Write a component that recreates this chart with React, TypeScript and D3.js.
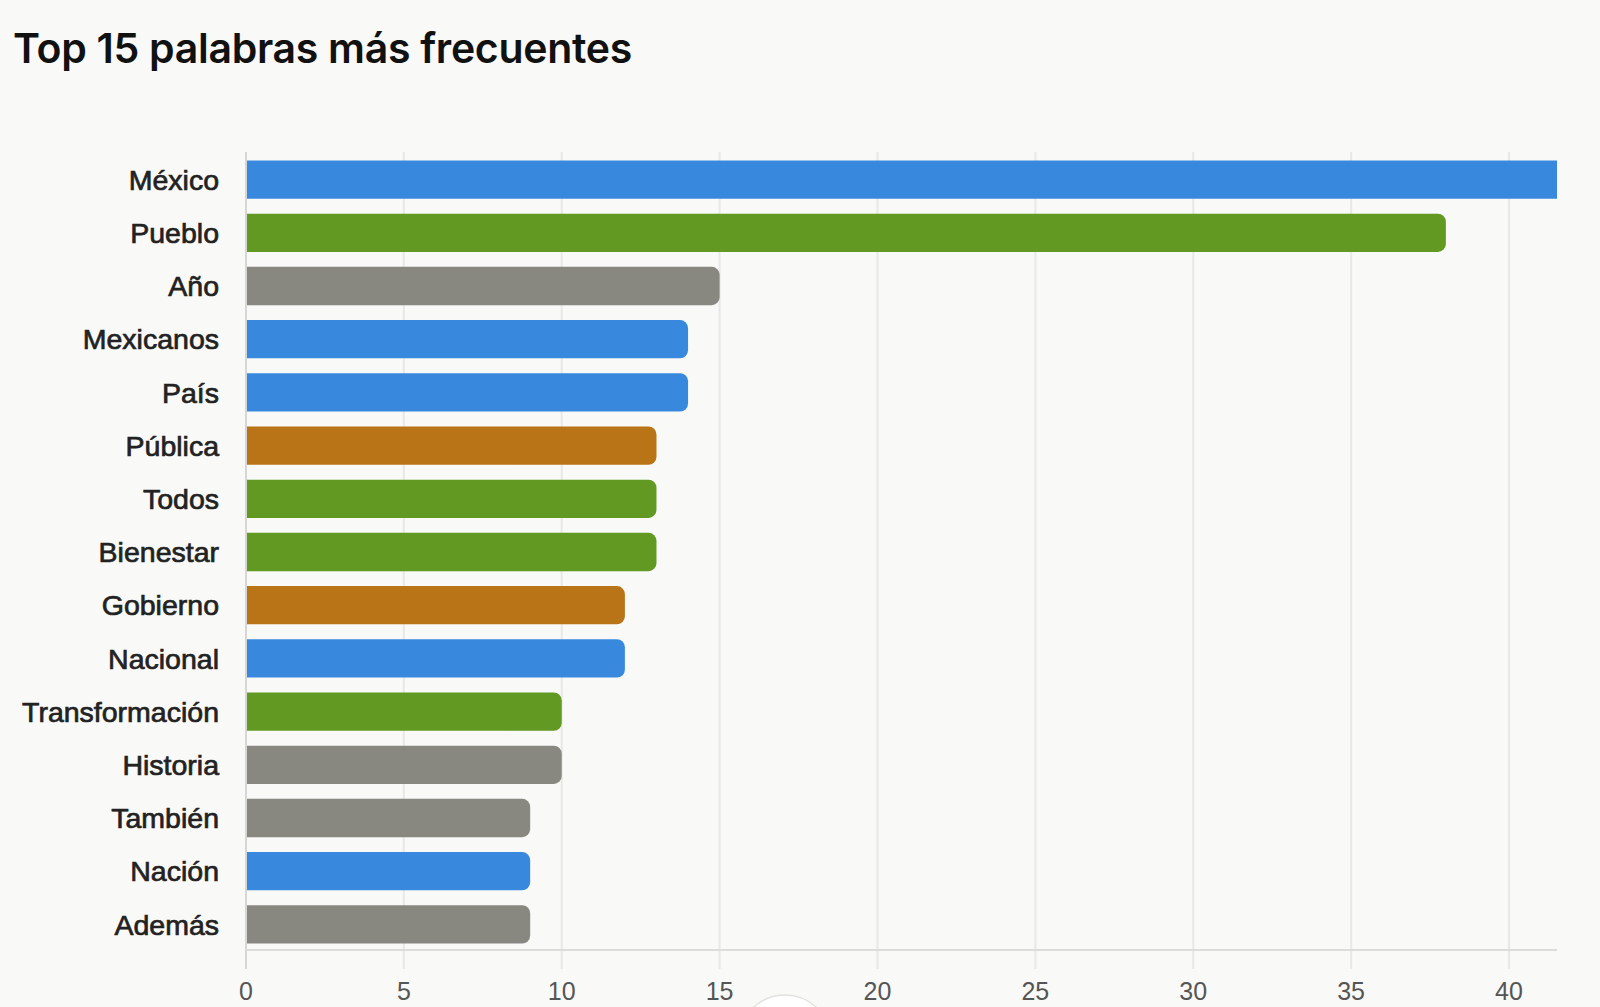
import * as React from 'react'
import {useEffect, useRef} from 'react'
import * as d3 from 'd3'

const palabras = ['México', 'Pueblo', 'Año', 'Mexicanos', 'País', 'Pública', 'Todos', 'Bienestar',
  'Gobierno', 'Nacional', 'Transformación', 'Historia', 'También', 'Nación', 'Además']
const frecuencias = [45, 38, 15, 14, 14, 13, 13, 13, 12, 12, 10, 10, 9, 9, 9]
const grupos = ['patria', 'social', 'general', 'patria', 'patria', 'estado', 'social', 'social',
  'estado', 'patria', 'social', 'general', 'general', 'patria', 'general']
const tiposGrupo = ['patria', 'social', 'general', 'estado']
const coloresGrupo = ['#3889de', '#629923', '#898880', '#ba7418']
const ticksX = [0, 5, 10, 15, 20, 25, 30, 35, 40]

const width = 1600
const height = 1007

const App = () => {
  const chartRef = useRef(null)

  useEffect(() => {
    const svg = d3.select(chartRef.current)
    svg.selectAll('*').remove()

    const left = 246
    const right = 1557
    const top = 153
    const bottom = 951

    const data = palabras.map((p, i) => ({palabra: p, valor: frecuencias[i], grupo: grupos[i]}))

    const xScale = d3.scaleLinear().domain([0, 41.52]).range([left, right])
    const yScale = d3.scaleBand()
      .domain(palabras)
      .range([top, bottom])
      .paddingInner(0.28)
      .paddingOuter(0.14)
    const color = d3.scaleOrdinal().domain(tiposGrupo).range(coloresGrupo)

    svg.append('rect')
      .attr('width', width)
      .attr('height', height)
      .attr('fill', '#f9f9f8')

    svg.append('text')
      .attr('x', 13)
      .attr('y', 63)
      .style('font-family', 'Inter, sans-serif')
      .style('font-weight', 600)
      .style('font-size', '41px')
      .style('letter-spacing', '-0.3px')
      .attr('fill', '#111')
      .text('Top 15 palabras más frecuentes')

    // vertical grid lines + tick marks
    svg.selectAll('.grid')
      .data(ticksX)
      .enter()
      .append('line')
      .attr('x1', d => xScale(d))
      .attr('x2', d => xScale(d))
      .attr('y1', top - 1)
      .attr('y2', bottom + 18)
      .attr('stroke', d => d === 0 ? '#d6d6d4' : '#e8e8e6')
      .attr('stroke-width', 2)

    svg.append('clipPath')
      .attr('id', 'plot-clip')
      .append('rect')
      .attr('x', left)
      .attr('y', top)
      .attr('width', right - left)
      .attr('height', bottom - top)

    const barras = svg.append('g').attr('clip-path', 'url(#plot-clip)')
    const r = 8
    barras.selectAll('path')
      .data(data)
      .enter()
      .append('path')
      .attr('d', d => {
        const x0 = xScale(0) + 1
        const x1 = xScale(d.valor)
        const y0 = yScale(d.palabra)
        const h = yScale.bandwidth()
        const p = d3.path()
        p.moveTo(x0, y0)
        p.lineTo(x1 - r, y0)
        p.arcTo(x1, y0, x1, y0 + r, r)
        p.lineTo(x1, y0 + h - r)
        p.arcTo(x1, y0 + h, x1 - r, y0 + h, r)
        p.lineTo(x0, y0 + h)
        p.closePath()
        return p.toString()
      })
      .attr('fill', d => color(d.grupo))

    // axis baseline
    svg.append('line')
      .attr('x1', left)
      .attr('x2', right)
      .attr('y1', bottom - 1)
      .attr('y2', bottom - 1)
      .attr('stroke', '#dcdcda')
      .attr('stroke-width', 2)

    svg.selectAll('.ytick')
      .data(data)
      .enter()
      .append('text')
      .attr('x', 219)
      .attr('y', d => yScale(d.palabra) + yScale.bandwidth() / 2)
      .attr('dy', '0.36em')
      .style('text-anchor', 'end')
      .style('font-family', '"Liberation Sans", Arial, sans-serif')
      .style('font-size', '28.5px')
      .attr('fill', '#222')
      .attr('stroke', '#222')
      .attr('stroke-width', 0.7)
      .text(d => d.palabra)

    svg.selectAll('.xtick')
      .data(ticksX)
      .enter()
      .append('text')
      .attr('x', d => xScale(d))
      .attr('y', 1000)
      .style('text-anchor', 'middle')
      .style('font-family', '"Liberation Sans", Arial, sans-serif')
      .style('font-size', '25px')
      .attr('fill', '#555')
      .text(d => d)

    // scroll button peeking at the bottom
    svg.append('circle')
      .attr('cx', 785)
      .attr('cy', 1041)
      .attr('r', 46)
      .attr('fill', '#ffffff')
      .attr('stroke', '#e2e2e0')
      .attr('stroke-width', 1.5)
  }, [])

  return (
    <div style={{position: 'fixed', left: 0, top: 0, width: width, height: height, overflow: 'hidden'}}>
      <svg ref={chartRef} width={width} height={height}></svg>
    </div>
  )
}

export default App
